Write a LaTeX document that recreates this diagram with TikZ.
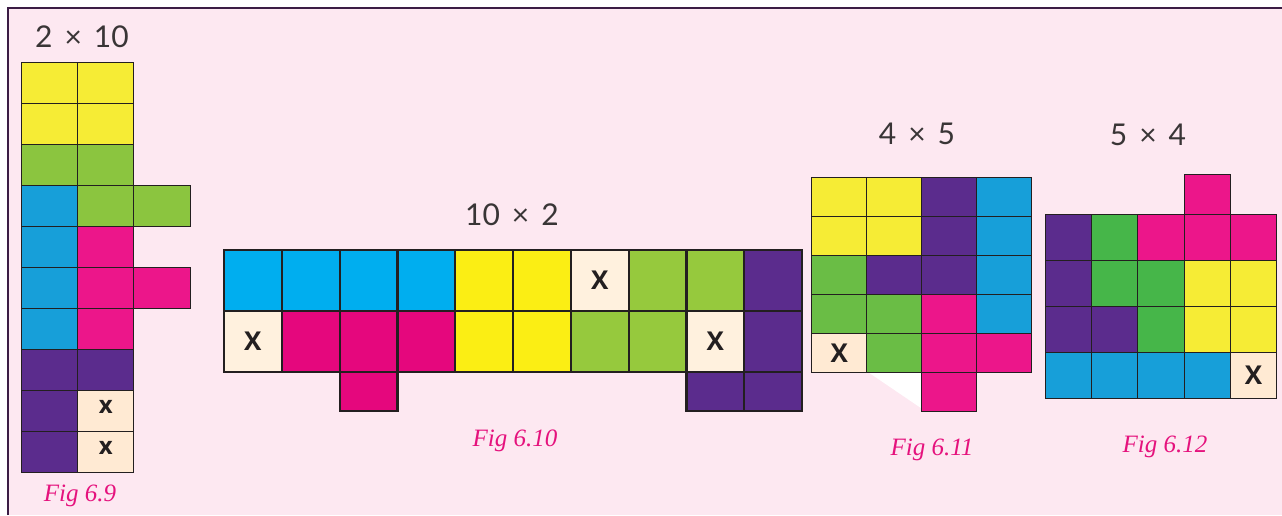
\documentclass[tikz,border=0pt]{standalone}
\usepackage{fontspec}
\setsansfont{Lato}
\setmainfont{Liberation Serif}
\newfontfamily\xfont{Open Sans}
\usepackage{xcolor}
\usetikzlibrary{positioning}
\definecolor{pinkbg}{HTML}{FDE8F1}
\definecolor{framec}{HTML}{3B1C45}
\definecolor{ink}{HTML}{231F20}
\definecolor{figpink}{HTML}{E5127D}
\definecolor{yel}{HTML}{F6EC35}
\definecolor{grn}{HTML}{8BC53F}
\definecolor{blu}{HTML}{179FD9}
\definecolor{mag}{HTML}{EC168A}
\definecolor{pur}{HTML}{5B2C8D}
\definecolor{crm}{HTML}{FFEAD3}
\definecolor{cyn}{HTML}{00AEEF}
\definecolor{yelb}{HTML}{FBEE14}
\definecolor{grnb}{HTML}{96C93D}
\definecolor{magb}{HTML}{E5077D}
\definecolor{crmb}{HTML}{FFF1DE}
\definecolor{grnc}{HTML}{6ABD45}
\definecolor{grnd}{HTML}{46B649}
\newcommand{\tms}{\hspace{0.4em}×\hspace{0.4em}}

\begin{document}
\begin{tikzpicture}[x=1pt,y=-1pt,
  cell/.style={draw=ink,line width=1pt},
  dimlabel/.style={font=\sffamily\fontsize{30}{30}\selectfont,text=ink!90},
  figcap/.style={font=\rmfamily\itshape\fontsize{25}{25}\selectfont,text=figpink},
  xsq/.style={font=\xfont\bfseries\fontsize{26}{26}\selectfont,text=ink}]
  \useasboundingbox (0,0) rectangle (1282,515);
  \fill[pinkbg] (8,8) rectangle (1282,515);
  \draw[framec,line width=2.5pt] (8,515) -- (8,8) -- (1282,8);

  % Fig 6.9
  \node[dimlabel] (t9) at (82,37) {2\tms{}10};
  \begin{scope}[shift={(21.3,62)},x=56.3pt,y=-41pt]
    \foreach \c/\r/\col in {0/0/yel,1/0/yel,0/1/yel,1/1/yel,0/2/grn,1/2/grn,
        0/3/blu,1/3/grn,2/3/grn,0/4/blu,1/4/mag,0/5/blu,1/5/mag,2/5/mag,
        0/6/blu,1/6/mag,0/7/pur,1/7/pur,0/8/pur,1/8/crm,0/9/pur,1/9/crm}
      \filldraw[cell,fill=\col] (\c,\r) rectangle ++(1,1);
    \node[xsq,font=\xfont\bfseries\fontsize{24}{24}\selectfont] (x9a) at (1.5,8.42) {x};
    \node[xsq,font=\xfont\bfseries\fontsize{24}{24}\selectfont] (x9b) at (1.5,9.42) {x};
  \end{scope}
  \node[figcap] (c9) at (80,496) {Fig 6.9};

  % Fig 6.10
  \node[dimlabel] (t10) at (512,215) {10\tms{}2};
  \begin{scope}[shift={(224,250)},x=57.8pt,y=-61pt]
    \foreach \c/\col in {0/cyn,1/cyn,2/cyn,3/cyn,4/yelb,5/yelb,6/crmb,7/grnb,8/grnb,9/pur}
      \filldraw[cell,line width=2.2pt,fill=\col] (\c,0) rectangle ++(1,1);
    \foreach \c/\col in {0/crmb,1/magb,2/magb,3/magb,4/yelb,5/yelb,6/grnb,7/grnb,8/crmb,9/pur}
      \filldraw[cell,line width=2.2pt,fill=\col] (\c,1) rectangle ++(1,1);
    \foreach \c/\col in {2/magb,8/pur,9/pur}
      \filldraw[cell,line width=2.2pt,fill=\col] (\c,2) rectangle ++(1,0.64);
    \node[xsq] (x10a) at (6.5,0.5) {X};
    \node[xsq] (x10b) at (0.5,1.5) {X};
    \node[xsq] (x10c) at (8.5,1.5) {X};
  \end{scope}
  \node[figcap] (c10) at (515,441) {Fig 6.10};

  % Fig 6.11
  \node[dimlabel] (t11) at (917,134) {4\tms{}5};
  \begin{scope}[shift={(811.7,177.3)},x=55pt,y=-39pt]
    \fill[white] (1.03,5) -- (2,5) -- (2,5.93) -- cycle;
    \foreach \c/\r/\col in {0/0/yel,1/0/yel,2/0/pur,3/0/blu,0/1/yel,1/1/yel,2/1/pur,3/1/blu,
        0/2/grnc,1/2/pur,2/2/pur,3/2/blu,0/3/grnc,1/3/grnc,2/3/mag,3/3/blu,
        0/4/crm,1/4/grnc,2/4/mag,3/4/mag,2/5/mag}
      \filldraw[cell,fill=\col] (\c,\r) rectangle ++(1,1);
    \node[xsq] (x11) at (0.5,4.5) {X};
  \end{scope}
  \node[figcap] (c11) at (932,450) {Fig 6.11};

  % Fig 6.12
  \node[dimlabel] (t12) at (1148,135) {5\tms{}4};
  \begin{scope}[shift={(1045.3,214)},x=46.3pt,y=-46.2pt]
    \filldraw[cell,fill=mag] (3,-0.845) rectangle (4,0);
    \foreach \c/\r/\col in {0/0/pur,1/0/grnd,2/0/mag,3/0/mag,4/0/mag,
        0/1/pur,1/1/grnd,2/1/grnd,3/1/yel,4/1/yel,
        0/2/pur,1/2/pur,2/2/grnd,3/2/yel,4/2/yel,
        0/3/blu,1/3/blu,2/3/blu,3/3/blu,4/3/crm}
      \filldraw[cell,fill=\col] (\c,\r) rectangle ++(1,1);
    \node[xsq] (x12) at (4.5,3.5) {X};
  \end{scope}
  \node[figcap] (c12) at (1165,447) {Fig 6.12};
\end{tikzpicture}
\end{document}
